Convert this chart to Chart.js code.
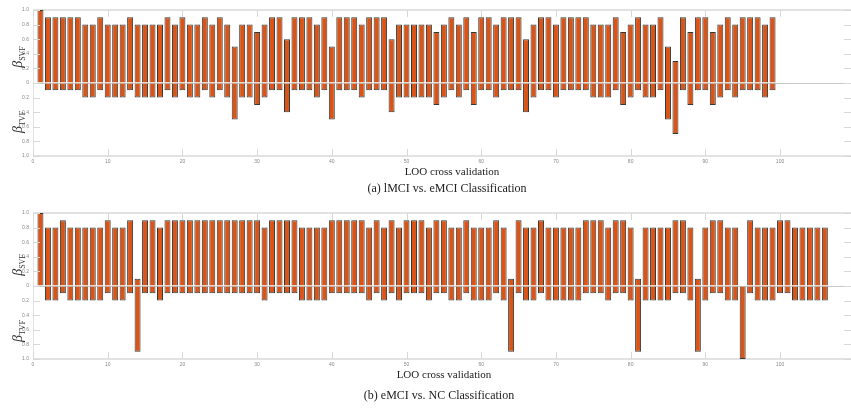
<!DOCTYPE html>
<html>
<head>
<meta charset="utf-8">
<script src="https://cdn.jsdelivr.net/npm/chart.js@4.4.1/dist/chart.umd.min.js"></script>
<style>
  body { margin: 0; background: #fff; }
  #wrap { position: relative; width: 851px; height: 410px; overflow: hidden; background: #fff; }
  canvas { position: absolute; left: 0; }
  .txt { position: absolute; font-family: "Liberation Serif", serif; color: #222; white-space: nowrap; transform: translate(-50%, -50%); }
  .xlab { font-size: 11px; }
  .cap { font-size: 12px; }
  .beta { position: absolute; font-family: "Liberation Serif", serif; color: #333; white-space: nowrap;
          transform: translate(-50%, -50%) rotate(-90deg); font-size: 14px; }
  .beta i { font-style: italic; }
  .beta sub { font-size: 8px; vertical-align: -3px; }
</style>
</head>
<body>
<div id="wrap">
  <canvas id="chartA" width="851" height="168" style="top:0px"></canvas>
  <canvas id="chartB" width="851" height="168" style="top:203px"></canvas>

  <div class="beta" style="left:18px; top:57px"><i>β</i><sub>SVF</sub></div>
  <div class="beta" style="left:18px; top:122px"><i>β</i><sub>TVF</sub></div>
  <div class="txt xlab" style="left:452px; top:171px">LOO cross validation</div>
  <div class="txt cap" style="left:447px; top:188px">(a) lMCI vs. eMCI Classification</div>

  <div class="beta" style="left:18px; top:265px"><i>β</i><sub>SVF</sub></div>
  <div class="beta" style="left:18px; top:331px"><i>β</i><sub>TVF</sub></div>
  <div class="txt xlab" style="left:444px; top:374px">LOO cross validation</div>
  <div class="txt cap" style="left:439px; top:395px">(b) eMCI vs. NC Classification</div>
</div>
<script>
// (a) lMCI vs eMCI, folds 1..99
const svfA = [
  1.0, 0.9, 0.9, 0.9, 0.9, 0.9, 0.8, 0.8, 0.9, 0.8,
  0.8, 0.8, 0.9, 0.8, 0.8, 0.8, 0.8, 0.9, 0.8, 0.9,
  0.8, 0.8, 0.9, 0.8, 0.9, 0.8, 0.5, 0.8, 0.8, 0.7,
  0.8, 0.9, 0.9, 0.6, 0.9, 0.9, 0.9, 0.8, 0.9, 0.5,
  0.9, 0.9, 0.9, 0.8, 0.9, 0.9, 0.9, 0.6, 0.8, 0.8,
  0.8, 0.8, 0.8, 0.7, 0.8, 0.9, 0.8, 0.9, 0.7, 0.9,
  0.9, 0.8, 0.9, 0.9, 0.9, 0.6, 0.8, 0.9, 0.9, 0.8,
  0.9, 0.9, 0.9, 0.9, 0.8, 0.8, 0.8, 0.9, 0.7, 0.8,
  0.9, 0.8, 0.8, 0.9, 0.5, 0.3, 0.9, 0.7, 0.9, 0.9,
  0.7, 0.8, 0.9, 0.8, 0.9, 0.9, 0.9, 0.8, 0.9
];
const tvfA = [
  0.0, 0.1, 0.1, 0.1, 0.1, 0.1, 0.2, 0.2, 0.1, 0.2,
  0.2, 0.2, 0.1, 0.2, 0.2, 0.2, 0.2, 0.1, 0.2, 0.1,
  0.2, 0.2, 0.1, 0.2, 0.1, 0.2, 0.5, 0.2, 0.2, 0.3,
  0.2, 0.1, 0.1, 0.4, 0.1, 0.1, 0.1, 0.2, 0.1, 0.5,
  0.1, 0.1, 0.1, 0.2, 0.1, 0.1, 0.1, 0.4, 0.2, 0.2,
  0.2, 0.2, 0.2, 0.3, 0.2, 0.1, 0.2, 0.1, 0.3, 0.1,
  0.1, 0.2, 0.1, 0.1, 0.1, 0.4, 0.2, 0.1, 0.1, 0.2,
  0.1, 0.1, 0.1, 0.1, 0.2, 0.2, 0.2, 0.1, 0.3, 0.2,
  0.1, 0.2, 0.2, 0.1, 0.5, 0.7, 0.1, 0.3, 0.1, 0.1,
  0.3, 0.2, 0.1, 0.2, 0.1, 0.1, 0.1, 0.2, 0.1
];

// (b) eMCI vs NC, folds 1..106
const svfB = [
  1.0, 0.8, 0.8, 0.9, 0.8, 0.8, 0.8, 0.8, 0.8, 0.9,
  0.8, 0.8, 0.9, 0.1, 0.9, 0.9, 0.8, 0.9, 0.9, 0.9,
  0.9, 0.9, 0.9, 0.9, 0.9, 0.9, 0.9, 0.9, 0.9, 0.9,
  0.8, 0.9, 0.9, 0.9, 0.9, 0.8, 0.8, 0.8, 0.8, 0.9,
  0.9, 0.9, 0.9, 0.9, 0.8, 0.9, 0.8, 0.9, 0.8, 0.9,
  0.9, 0.9, 0.8, 0.9, 0.9, 0.8, 0.8, 0.9, 0.8, 0.8,
  0.8, 0.9, 0.8, 0.1, 0.9, 0.8, 0.8, 0.9, 0.8, 0.8,
  0.8, 0.8, 0.8, 0.9, 0.9, 0.9, 0.8, 0.9, 0.9, 0.8,
  0.1, 0.8, 0.8, 0.8, 0.8, 0.9, 0.9, 0.8, 0.1, 0.8,
  0.9, 0.9, 0.8, 0.8, 0.0, 0.9, 0.8, 0.8, 0.8, 0.9,
  0.9, 0.8, 0.8, 0.8, 0.8, 0.8
];
const tvfB = [
  0.0, 0.2, 0.2, 0.1, 0.2, 0.2, 0.2, 0.2, 0.2, 0.1,
  0.2, 0.2, 0.1, 0.9, 0.1, 0.1, 0.2, 0.1, 0.1, 0.1,
  0.1, 0.1, 0.1, 0.1, 0.1, 0.1, 0.1, 0.1, 0.1, 0.1,
  0.2, 0.1, 0.1, 0.1, 0.1, 0.2, 0.2, 0.2, 0.2, 0.1,
  0.1, 0.1, 0.1, 0.1, 0.2, 0.1, 0.2, 0.1, 0.2, 0.1,
  0.1, 0.1, 0.2, 0.1, 0.1, 0.2, 0.2, 0.1, 0.2, 0.2,
  0.2, 0.1, 0.2, 0.9, 0.1, 0.2, 0.2, 0.1, 0.2, 0.2,
  0.2, 0.2, 0.2, 0.1, 0.1, 0.1, 0.2, 0.1, 0.1, 0.2,
  0.9, 0.2, 0.2, 0.2, 0.2, 0.1, 0.1, 0.2, 0.9, 0.2,
  0.1, 0.1, 0.2, 0.2, 1.0, 0.1, 0.2, 0.2, 0.2, 0.1,
  0.1, 0.2, 0.2, 0.2, 0.2, 0.2
];

const xTicks = [0, 10, 20, 30, 40, 50, 60, 70, 80, 90, 100];
const yTicks = [1.0, 0.8, 0.6, 0.4, 0.2, 0, -0.2, -0.4, -0.6, -0.8, -1.0];

const barFill = '#DA5317';
const barEdge = '#2e3b3b';

// short inside tick marks like a matlab box axis
const tickMarks = {
  id: 'tickMarks',
  afterDraw(chart) {
    const { ctx, chartArea, scales } = chart;
    ctx.save();
    ctx.strokeStyle = '#d8d8d8';
    ctx.lineWidth = 1;
    ctx.beginPath();
    yTicks.forEach(v => {
      const y = Math.round(scales.y.getPixelForValue(v)) + 0.5;
      ctx.moveTo(chartArea.left, y); ctx.lineTo(chartArea.left + 7, y);
      ctx.moveTo(chartArea.right - 7, y); ctx.lineTo(chartArea.right, y);
    });
    xTicks.forEach(v => {
      const x = Math.round(scales.x.getPixelForValue(v)) + 0.5;
      ctx.moveTo(x, chartArea.top); ctx.lineTo(x, chartArea.top + 7);
      ctx.moveTo(x, chartArea.bottom - 7); ctx.lineTo(x, chartArea.bottom);
    });
    ctx.stroke();
    ctx.restore();
  }
};

function makeChart(canvasId, svf, tvf) {
  const up = svf.map((v, i) => ({ x: i + 1, y: v }));
  const down = tvf.map((v, i) => ({ x: i + 1, y: -v }));
  return new Chart(document.getElementById(canvasId), {
    type: 'bar',
    data: {
      datasets: [
        { label: 'SVF', data: up, backgroundColor: barFill, borderColor: barEdge, borderWidth: 1,
          barPercentage: 0.8, categoryPercentage: 1 },
        { label: 'TVF', data: down, backgroundColor: barFill, borderColor: barEdge, borderWidth: 1,
          barPercentage: 0.8, categoryPercentage: 1 }
      ]
    },
    options: {
      responsive: false,
      animation: false,
      layout: { padding: { top: 10, right: 0, left: 0, bottom: 0 } },
      plugins: { legend: { display: false }, tooltip: { enabled: false } },
      scales: {
        x: {
          type: 'linear',
          stacked: true,
          offset: false,
          min: 0,
          max: 109.5,
          afterFit: s => { s.height = 12; },
          border: { display: false },
          grid: {
            drawTicks: false,
            offset: false,
            color: c => (c.tick && c.tick.value === 0 ? '#e2e2e2' : 'transparent')
          },
          ticks: {
            stepSize: 10,
            includeBounds: false,
            padding: 3,
            maxRotation: 0,
            color: '#888',
            font: { family: 'Liberation Sans', size: 5 }
          }
        },
        y: {
          stacked: true,
          min: -1,
          max: 1,
          afterFit: s => { s.width = 33; },
          border: { display: false },
          grid: {
            drawTicks: false,
            color: c => {
              const v = c.tick ? c.tick.value : 0.5;
              if (Math.abs(v) < 1e-9) return '#c9c9c9';
              if (Math.abs(Math.abs(v) - 1) < 1e-9) return '#e2e2e2';
              return 'transparent';
            },
            lineWidth: c => (c.tick && Math.abs(Math.abs(c.tick.value) - 1) < 1e-9 ? 2 : 1)
          },
          afterBuildTicks: s => { s.ticks = yTicks.map(v => ({ value: v })); },
          ticks: {
            padding: 4,
            color: '#888',
            font: { family: 'Liberation Sans', size: 5 },
            callback: v => (Math.abs(v) < 1e-9 ? '0' : Math.abs(v).toFixed(1))
          }
        }
      }
    },
    plugins: [tickMarks]
  });
}

const chartA = makeChart('chartA', svfA, tvfA);
const chartB = makeChart('chartB', svfB, tvfB);
</script>
</body>
</html>
